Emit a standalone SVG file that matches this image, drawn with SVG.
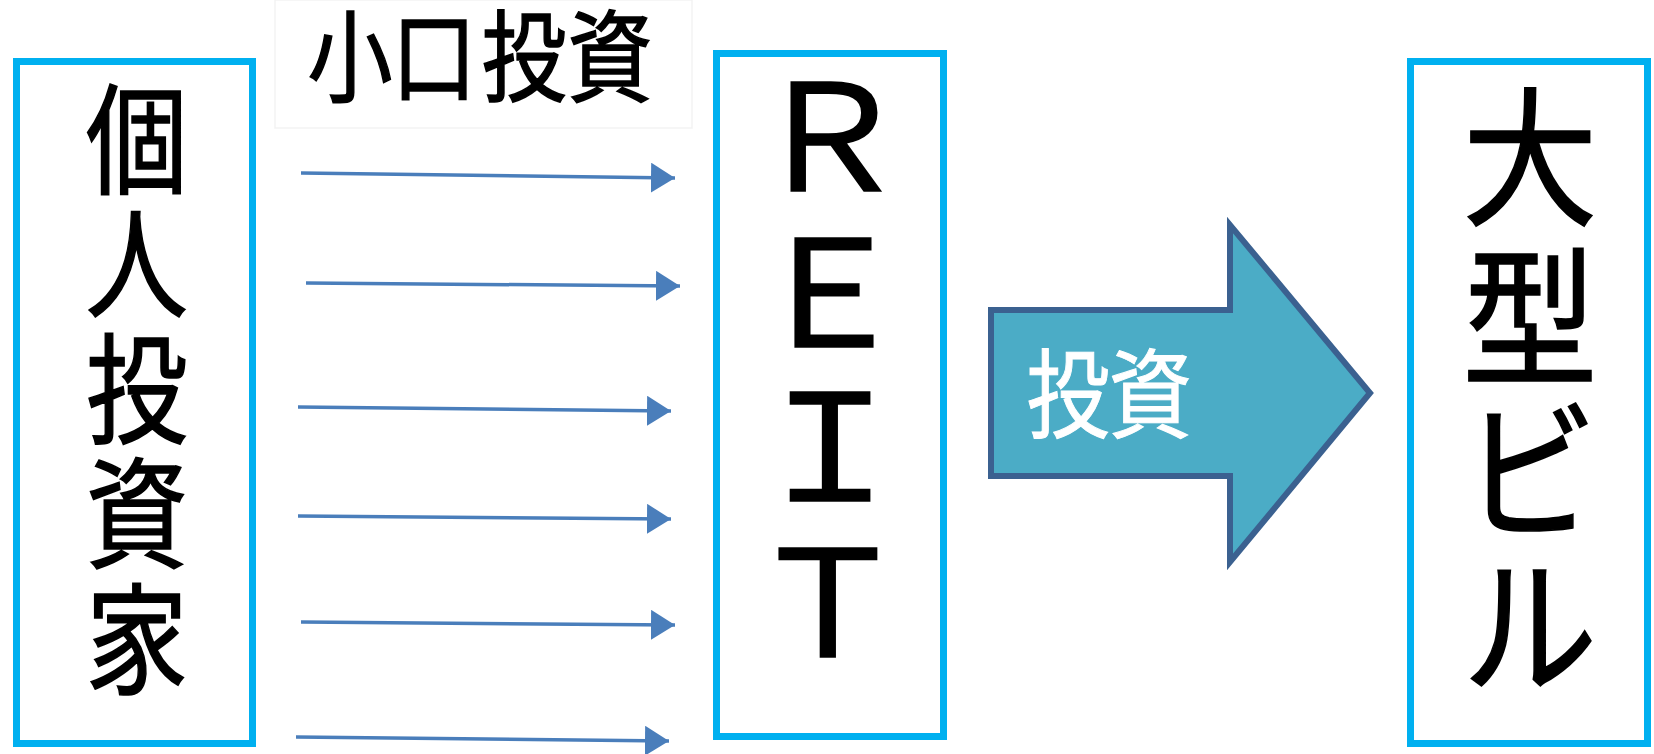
<svg xmlns="http://www.w3.org/2000/svg" width="1654" height="754" viewBox="0 0 1654 754">
<style>
.box{fill:#fff;stroke:#00B0F0;stroke-width:7}
.jp{font-family:"Noto Sans CJK JP","Noto Sans CJK SC",sans-serif;fill:#000;stroke:#000;stroke-width:1.6}
.conn{stroke:#4A7EBB;stroke-width:3.5;fill:none;marker-end:url(#ah)}
</style>
<defs>
<marker id="ah" markerUnits="userSpaceOnUse" markerWidth="26" markerHeight="32" refX="24" refY="15" orient="auto">
<path d="M0,0 L24,15 L0,30 Z" fill="#4A7EBB"/>
</marker>
</defs>
<rect width="1654" height="754" fill="#fff"/>
<g id="label-koguchi">
<rect x="275" y="0" width="417" height="128" fill="#fff" stroke="#f3f3f3" stroke-width="1.5"/>
<text class="jp" font-size="100" text-anchor="middle" transform="scale(0.85,1)"><tspan x="411.8" y="94">小</tspan><tspan x="510.6" y="94">口</tspan><tspan x="616.5" y="94">投</tspan><tspan x="717.6" y="94">資</tspan></text>
</g>
<g id="node-kojin">
<rect class="box" x="16.5" y="61.5" width="236" height="682"/>
<text class="jp" font-size="120" text-anchor="middle" transform="scale(0.85,1)"><tspan x="161" y="185">個</tspan><tspan x="161" y="309">人</tspan><tspan x="161" y="435">投</tspan><tspan x="161" y="559">資</tspan><tspan x="161" y="685">家</tspan></text>
</g>
<g id="node-reit">
<rect class="box" x="716.5" y="53.5" width="227" height="683"/>
<text class="jp" font-size="148" text-anchor="middle" transform="scale(1.06,1)"><tspan x="783" y="191">Ｒ</tspan><tspan x="783" y="347">Ｅ</tspan><tspan x="783" y="501">Ｉ</tspan><tspan x="781" y="657">Ｔ</tspan></text>
</g>
<g id="node-building">
<rect class="box" x="1410.5" y="61.5" width="237" height="682"/>
<text class="jp" font-size="150" text-anchor="middle" transform="scale(0.9,1)"><tspan x="1700" y="214">大</tspan><tspan x="1700" y="374">型</tspan><tspan x="1700" y="527">ビ</tspan><tspan x="1700" y="682">ル</tspan></text>
</g>
<g id="connectors">
<line class="conn" x1="301" y1="173" x2="675" y2="178"/>
<line class="conn" x1="306" y1="283" x2="680" y2="286"/>
<line class="conn" x1="298" y1="407" x2="671" y2="411"/>
<line class="conn" x1="298" y1="516" x2="671" y2="519"/>
<line class="conn" x1="301" y1="622" x2="675" y2="625"/>
<line class="conn" x1="296" y1="737" x2="669" y2="741"/>
</g>
<g id="block-arrow">
<path d="M991,310 L1230,310 L1230,225 L1370,393 L1230,562 L1230,476 L991,476 Z" fill="#4BACC6" stroke="#3B6190" stroke-width="6" stroke-linejoin="miter"/>
<text class="jp" font-size="96" text-anchor="middle" transform="scale(0.87,1)" style="fill:#fff;stroke:#fff;stroke-width:1"><tspan x="1227.6" y="430">投</tspan><tspan x="1322" y="430">資</tspan></text>
</g>
</svg>
